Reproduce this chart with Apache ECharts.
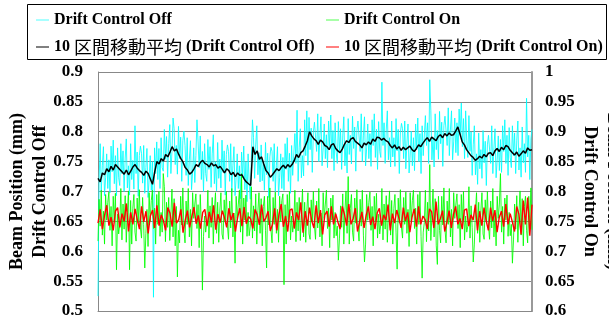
<!DOCTYPE html>
<html>
<head>
<meta charset="utf-8">
<script src="https://cdn.jsdelivr.net/npm/echarts@6.0.0/dist/echarts.min.js"></script>
<style>
  html, body { margin: 0; padding: 0; background: #fff; }
  #chart { width: 609px; height: 323px; }
</style>
</head>
<body>
<div id="chart"></div>
<script>
// Drift Control Off, raw readings (left axis, mm)
const offRaw = [
  0.525, 0.717, 0.780, 0.700, 0.743, 0.775, 0.693, 0.723, 0.763, 0.705,
  0.753, 0.698, 0.776, 0.733, 0.786, 0.713, 0.760, 0.693, 0.773, 0.723,
  0.710, 0.780, 0.730, 0.768, 0.700, 0.756, 0.788, 0.706, 0.743, 0.694,
  0.780, 0.720, 0.752, 0.704, 0.810, 0.730, 0.766, 0.692, 0.760, 0.776,
  0.764, 0.714, 0.777, 0.697, 0.740, 0.772, 0.690, 0.720, 0.760, 0.702,
  0.750, 0.523, 0.773, 0.730, 0.783, 0.720, 0.772, 0.705, 0.790, 0.740,
  0.734, 0.804, 0.754, 0.792, 0.724, 0.780, 0.812, 0.730, 0.767, 0.823,
  0.805, 0.745, 0.777, 0.729, 0.809, 0.755, 0.791, 0.717, 0.785, 0.801,
  0.777, 0.727, 0.790, 0.710, 0.753, 0.785, 0.703, 0.733, 0.773, 0.715,
  0.760, 0.820, 0.783, 0.740, 0.793, 0.720, 0.767, 0.700, 0.780, 0.730,
  0.717, 0.787, 0.737, 0.775, 0.707, 0.763, 0.795, 0.713, 0.750, 0.701,
  0.782, 0.722, 0.754, 0.706, 0.786, 0.732, 0.768, 0.694, 0.762, 0.778,
  0.767, 0.717, 0.780, 0.700, 0.743, 0.775, 0.693, 0.723, 0.763, 0.705,
  0.743, 0.688, 0.766, 0.723, 0.776, 0.703, 0.750, 0.683, 0.763, 0.713,
  0.687, 0.757, 0.820, 0.790, 0.722, 0.778, 0.810, 0.728, 0.765, 0.716,
  0.778, 0.718, 0.750, 0.702, 0.782, 0.728, 0.764, 0.690, 0.758, 0.774,
  0.767, 0.717, 0.780, 0.700, 0.743, 0.775, 0.693, 0.723, 0.763, 0.705,
  0.757, 0.702, 0.780, 0.737, 0.790, 0.717, 0.764, 0.697, 0.777, 0.727,
  0.727, 0.797, 0.747, 0.836, 0.717, 0.773, 0.805, 0.723, 0.760, 0.726,
  0.820, 0.760, 0.835, 0.744, 0.824, 0.770, 0.806, 0.732, 0.800, 0.816,
  0.817, 0.767, 0.830, 0.750, 0.793, 0.825, 0.743, 0.773, 0.813, 0.755,
  0.795, 0.740, 0.818, 0.775, 0.828, 0.755, 0.802, 0.735, 0.815, 0.765,
  0.747, 0.817, 0.767, 0.805, 0.737, 0.793, 0.825, 0.743, 0.780, 0.731,
  0.822, 0.762, 0.794, 0.746, 0.826, 0.772, 0.808, 0.734, 0.802, 0.818,
  0.817, 0.767, 0.830, 0.750, 0.793, 0.825, 0.743, 0.773, 0.813, 0.755,
  0.797, 0.742, 0.820, 0.777, 0.830, 0.757, 0.804, 0.737, 0.817, 0.767,
  0.757, 0.883, 0.777, 0.815, 0.747, 0.803, 0.835, 0.753, 0.790, 0.741,
  0.818, 0.758, 0.790, 0.742, 0.822, 0.768, 0.804, 0.730, 0.798, 0.814,
  0.805, 0.755, 0.818, 0.738, 0.781, 0.813, 0.731, 0.761, 0.801, 0.743,
  0.790, 0.735, 0.813, 0.770, 0.823, 0.750, 0.797, 0.730, 0.810, 0.760,
  0.757, 0.827, 0.777, 0.815, 0.747, 0.887, 0.835, 0.753, 0.790, 0.741,
  0.830, 0.770, 0.802, 0.754, 0.834, 0.780, 0.816, 0.742, 0.810, 0.826,
  0.827, 0.777, 0.840, 0.760, 0.803, 0.835, 0.753, 0.783, 0.823, 0.765,
  0.815, 0.760, 0.838, 0.795, 0.848, 0.775, 0.822, 0.755, 0.835, 0.785,
  0.757, 0.827, 0.767, 0.800, 0.727, 0.778, 0.810, 0.728, 0.763, 0.712,
  0.798, 0.738, 0.770, 0.722, 0.802, 0.748, 0.784, 0.710, 0.778, 0.794,
  0.797, 0.747, 0.810, 0.730, 0.773, 0.805, 0.723, 0.753, 0.793, 0.735,
  0.787, 0.732, 0.810, 0.767, 0.820, 0.747, 0.794, 0.727, 0.807, 0.757,
  0.740, 0.810, 0.760, 0.798, 0.730, 0.786, 0.818, 0.736, 0.773, 0.724,
  0.808, 0.748, 0.780, 0.732, 0.856, 0.758, 0.794, 0.720, 0.788, 0.804
];

// Drift Control On, raw readings (right axis, mm)
const onRaw = [
  0.717, 0.787, 0.742, 0.802, 0.727, 0.767, 0.712, 0.795, 0.752, 0.782,
  0.799, 0.735, 0.775, 0.709, 0.792, 0.749, 0.797, 0.669, 0.762, 0.729,
  0.745, 0.805, 0.719, 0.779, 0.737, 0.793, 0.715, 0.765, 0.801, 0.669,
  0.785, 0.712, 0.772, 0.795, 0.732, 0.717, 0.789, 0.747, 0.803, 0.739,
  0.722, 0.790, 0.745, 0.672, 0.730, 0.770, 0.708, 0.798, 0.750, 0.785,
  0.802, 0.738, 0.772, 0.712, 0.795, 0.745, 0.800, 0.725, 0.765, 0.732,
  0.830, 0.808, 0.716, 0.782, 0.740, 0.790, 0.718, 0.762, 0.804, 0.724,
  0.788, 0.709, 0.775, 0.657, 0.735, 0.714, 0.792, 0.744, 0.806, 0.736,
  0.714, 0.784, 0.745, 0.805, 0.724, 0.770, 0.709, 0.798, 0.755, 0.779,
  0.796, 0.738, 0.778, 0.706, 0.795, 0.746, 0.635, 0.725, 0.759, 0.732,
  0.748, 0.802, 0.722, 0.776, 0.740, 0.790, 0.712, 0.768, 0.798, 0.730,
  0.782, 0.715, 0.769, 0.798, 0.729, 0.720, 0.786, 0.750, 0.800, 0.742,
  0.720, 0.784, 0.739, 0.805, 0.724, 0.764, 0.680, 0.792, 0.755, 0.779,
  0.802, 0.732, 0.830, 0.712, 0.789, 0.752, 0.794, 0.725, 0.765, 0.726,
  0.742, 0.808, 0.722, 0.776, 0.734, 0.796, 0.712, 0.768, 0.798, 0.730,
  0.788, 0.709, 0.775, 0.792, 0.735, 0.672, 0.792, 0.744, 0.806, 0.736,
  0.714, 0.790, 0.745, 0.799, 0.730, 0.770, 0.715, 0.792, 0.749, 0.785,
  0.796, 0.644, 0.778, 0.712, 0.795, 0.746, 0.800, 0.719, 0.759, 0.732,
  0.748, 0.802, 0.716, 0.782, 0.734, 0.790, 0.718, 0.762, 0.804, 0.724,
  0.782, 0.715, 0.769, 0.798, 0.729, 0.720, 0.786, 0.750, 0.800, 0.742,
  0.720, 0.784, 0.739, 0.805, 0.724, 0.764, 0.709, 0.798, 0.755, 0.779,
  0.802, 0.738, 0.772, 0.706, 0.789, 0.752, 0.794, 0.722, 0.765, 0.726,
  0.742, 0.685, 0.722, 0.776, 0.740, 0.796, 0.712, 0.768, 0.801, 0.730,
  0.825, 0.712, 0.772, 0.795, 0.732, 0.717, 0.789, 0.747, 0.803, 0.739,
  0.717, 0.787, 0.742, 0.802, 0.727, 0.682, 0.712, 0.795, 0.752, 0.782,
  0.799, 0.735, 0.775, 0.709, 0.792, 0.749, 0.797, 0.722, 0.762, 0.729,
  0.745, 0.805, 0.719, 0.779, 0.737, 0.793, 0.715, 0.765, 0.801, 0.727,
  0.785, 0.712, 0.772, 0.795, 0.732, 0.670, 0.789, 0.747, 0.803, 0.739,
  0.722, 0.790, 0.745, 0.799, 0.730, 0.770, 0.708, 0.798, 0.750, 0.785,
  0.802, 0.738, 0.772, 0.712, 0.795, 0.745, 0.800, 0.725, 0.655, 0.732,
  0.748, 0.802, 0.716, 0.782, 0.734, 0.845, 0.718, 0.762, 0.804, 0.724,
  0.788, 0.709, 0.678, 0.792, 0.735, 0.714, 0.792, 0.744, 0.806, 0.736,
  0.714, 0.784, 0.745, 0.805, 0.724, 0.770, 0.709, 0.798, 0.755, 0.779,
  0.796, 0.738, 0.778, 0.706, 0.795, 0.746, 0.800, 0.719, 0.759, 0.732,
  0.742, 0.808, 0.722, 0.776, 0.740, 0.682, 0.712, 0.768, 0.798, 0.730,
  0.782, 0.715, 0.769, 0.798, 0.729, 0.720, 0.786, 0.750, 0.800, 0.742,
  0.720, 0.784, 0.739, 0.805, 0.724, 0.764, 0.709, 0.792, 0.755, 0.779,
  0.830, 0.732, 0.775, 0.712, 0.789, 0.752, 0.794, 0.725, 0.765, 0.726,
  0.745, 0.680, 0.719, 0.779, 0.737, 0.793, 0.715, 0.765, 0.801, 0.727,
  0.788, 0.709, 0.775, 0.792, 0.735, 0.714, 0.792, 0.744, 0.806, 0.736
];

// 10 区間移動平均 (Drift Control Off), left axis
const offAvg = [
  0.722, 0.716, 0.731, 0.728, 0.738, 0.733, 0.742, 0.736, 0.745, 0.741,
  0.737, 0.733, 0.729, 0.736, 0.728, 0.734, 0.741, 0.745, 0.739, 0.735,
  0.732, 0.727, 0.734, 0.730, 0.721, 0.712, 0.733, 0.750, 0.746, 0.755,
  0.751, 0.762, 0.758, 0.766, 0.775, 0.768, 0.771, 0.762, 0.755, 0.749,
  0.740, 0.736, 0.729, 0.732, 0.738, 0.745, 0.742, 0.749, 0.752, 0.747,
  0.745, 0.741, 0.748, 0.743, 0.745, 0.739, 0.742, 0.737, 0.731, 0.738,
  0.735, 0.728, 0.732, 0.725, 0.731, 0.727, 0.728, 0.721, 0.716, 0.713,
  0.710, 0.775, 0.762, 0.768, 0.754, 0.758, 0.746, 0.735, 0.731, 0.724,
  0.728, 0.733, 0.738, 0.735, 0.740, 0.744, 0.739, 0.745, 0.741, 0.745,
  0.752, 0.762, 0.757, 0.765, 0.768, 0.776, 0.785, 0.800, 0.793, 0.788,
  0.785, 0.779, 0.786, 0.783, 0.777, 0.775, 0.770, 0.778, 0.780, 0.772,
  0.768, 0.765, 0.771, 0.779, 0.785, 0.782, 0.788, 0.790, 0.784, 0.781,
  0.778, 0.773, 0.781, 0.778, 0.783, 0.779, 0.788, 0.784, 0.791, 0.790,
  0.786, 0.789, 0.785, 0.783, 0.777, 0.773, 0.778, 0.771, 0.775, 0.769,
  0.774, 0.770, 0.773, 0.776, 0.770, 0.767, 0.772, 0.778, 0.775, 0.781,
  0.786, 0.790, 0.784, 0.791, 0.788, 0.785, 0.792, 0.795, 0.790, 0.797,
  0.793, 0.798, 0.794, 0.795, 0.801, 0.808, 0.796, 0.783, 0.778, 0.770,
  0.765, 0.760, 0.757, 0.752, 0.755, 0.759, 0.756, 0.762, 0.758, 0.764,
  0.765, 0.760, 0.768, 0.772, 0.767, 0.774, 0.770, 0.777, 0.775, 0.769,
  0.765, 0.761, 0.766, 0.759, 0.763, 0.768, 0.764, 0.773, 0.769, 0.770
];

// 10 区間移動平均 (Drift Control On), right axis
const onAvg = [
  0.747, 0.770, 0.737, 0.760, 0.777, 0.743, 0.757, 0.735, 0.767, 0.773,
  0.740, 0.763, 0.750, 0.780, 0.733, 0.765, 0.745, 0.771, 0.753, 0.737,
  0.775, 0.749, 0.767, 0.730, 0.759, 0.769, 0.739, 0.777, 0.743, 0.761,
  0.751, 0.735, 0.773, 0.764, 0.741, 0.781, 0.747, 0.753, 0.770, 0.731,
  0.752, 0.768, 0.740, 0.758, 0.774, 0.746, 0.760, 0.738, 0.765, 0.770,
  0.742, 0.766, 0.748, 0.777, 0.736, 0.762, 0.748, 0.768, 0.756, 0.740,
  0.772, 0.752, 0.764, 0.733, 0.756, 0.772, 0.742, 0.774, 0.746, 0.758,
  0.754, 0.738, 0.770, 0.761, 0.744, 0.778, 0.750, 0.756, 0.767, 0.734,
  0.745, 0.772, 0.735, 0.762, 0.779, 0.741, 0.759, 0.733, 0.769, 0.771,
  0.738, 0.765, 0.752, 0.782, 0.731, 0.767, 0.743, 0.773, 0.751, 0.739,
  0.777, 0.747, 0.769, 0.728, 0.761, 0.767, 0.741, 0.775, 0.745, 0.763,
  0.749, 0.737, 0.775, 0.762, 0.743, 0.779, 0.745, 0.755, 0.772, 0.733,
  0.750, 0.766, 0.739, 0.761, 0.775, 0.744, 0.758, 0.737, 0.764, 0.772,
  0.743, 0.761, 0.752, 0.778, 0.735, 0.763, 0.747, 0.769, 0.755, 0.739,
  0.773, 0.751, 0.765, 0.732, 0.757, 0.771, 0.741, 0.775, 0.745, 0.759,
  0.753, 0.737, 0.771, 0.766, 0.739, 0.783, 0.745, 0.755, 0.768, 0.733,
  0.749, 0.768, 0.739, 0.762, 0.775, 0.745, 0.755, 0.737, 0.769, 0.771,
  0.742, 0.761, 0.752, 0.778, 0.735, 0.767, 0.743, 0.773, 0.751, 0.735,
  0.773, 0.751, 0.769, 0.732, 0.757, 0.767, 0.741, 0.779, 0.745, 0.763,
  0.749, 0.733, 0.775, 0.762, 0.728, 0.785, 0.745, 0.790, 0.726, 0.778
];

// hidden sample counters for the two sampling rates
const rawIndex = offRaw.map((_, i) => i + 1);
const avgIndex = offAvg.map((_, i) => i + 1);

const names = [
  'Drift Control Off',
  'Drift Control On',
  '10 区間移動平均 (Drift Control Off)',
  '10 区間移動平均 (Drift Control On)'
];

const serif = '"Liberation Serif", "Times New Roman", serif';
const cjk = '"Noto Sans CJK JP", sans-serif';

const chart = echarts.init(document.getElementById('chart'));

const lineSeries = (name, data, xi, yi, color, width, opacity) => ({
  name,
  type: 'line',
  xAxisIndex: xi,
  yAxisIndex: yi,
  data,
  symbol: 'none',
  silent: true,
  lineStyle: { color, width, opacity },
  itemStyle: { color }
});

// legend swatch: a short pale line, no marker
const swatch = (name, color) => ({
  name,
  itemStyle: { color, opacity: 0 },
  lineStyle: { color, width: 2, opacity: 1 }
});

const legendBase = {
  orient: 'vertical',
  top: 11,
  padding: 0,
  itemGap: 9,
  itemWidth: 13,
  itemHeight: 10,
  selectedMode: false,
  formatter: (n) => n.replace('区間移動平均', '{c|区間移動平均}'),
  textStyle: {
    fontFamily: serif,
    fontWeight: 'bold',
    fontSize: 16,
    color: '#000',
    lineHeight: 18,
    rich: {
      c: { fontFamily: cjk, fontWeight: 'normal', fontSize: 18, lineHeight: 18, color: '#000' }
    }
  }
};

const axisLabelStyle = { fontFamily: serif, fontWeight: 'bold', fontSize: 17, color: '#000' };
const axisNameStyle = { fontFamily: serif, fontWeight: 'bold', fontSize: 18, lineHeight: 23, color: '#000' };

chart.setOption({
  animation: false,
  backgroundColor: '#fff',
  grid: { left: 98, right: 77, top: 72, bottom: 12, containLabel: false, outerBoundsMode: 'none' },
  graphic: [{
    type: 'rect',
    shape: { x: 27.5, y: 4.5, width: 579, height: 55 },
    style: { fill: 'none', stroke: '#000', lineWidth: 1 }
  }],
  legend: [
    Object.assign({}, legendBase, {
      left: 35,
      data: [swatch(names[0], '#a8ffff'), swatch(names[2], '#808080')]
    }),
    Object.assign({}, legendBase, {
      left: 325,
      data: [swatch(names[1], '#a8ffa8'), swatch(names[3], '#ff8080')]
    })
  ],
  xAxis: [{
    type: 'category',
    data: rawIndex,
    boundaryGap: false,
    axisLine: { lineStyle: { color: '#888' } },
    axisTick: { show: false },
    axisLabel: { show: false },
    splitLine: { show: false }
  }, {
    type: 'category',
    data: avgIndex,
    boundaryGap: false,
    show: false
  }],
  yAxis: [{
    type: 'value',
    min: 0.5,
    max: 0.9,
    interval: 0.05,
    position: 'left',
    name: 'Beam Position (mm)\nDrift Control Off',
    nameLocation: 'middle',
    nameRotate: 90,
    nameGap: 46,
    nameMoveOverlap: false,
    nameTextStyle: axisNameStyle,
    axisLine: { show: true, lineStyle: { color: '#888' } },
    axisTick: { show: false },
    axisLabel: Object.assign({ margin: 15 }, axisLabelStyle),
    splitLine: { lineStyle: { color: '#888', width: 1 } }
  }, {
    type: 'value',
    min: 0.6,
    max: 1,
    interval: 0.05,
    position: 'right',
    name: 'Beam Position (mm)\nDrift Control On',
    nameLocation: 'middle',
    nameRotate: -90,
    nameGap: 46,
    nameMoveOverlap: false,
    nameTextStyle: axisNameStyle,
    axisLine: { show: true, lineStyle: { color: '#999', width: 2 } },
    axisTick: { show: false },
    axisLabel: Object.assign({ margin: 13 }, axisLabelStyle),
    splitLine: { show: false }
  }],
  series: [
    lineSeries(names[0], offRaw, 0, 0, '#00ffff', 1, 0.85),
    lineSeries(names[1], onRaw, 0, 1, '#00ff00', 1, 0.85),
    lineSeries(names[2], offAvg, 1, 0, '#000000', 1.5, 1),
    lineSeries(names[3], onAvg, 1, 1, '#ff0000', 1.4, 1)
  ]
});
</script>
</body>
</html>
